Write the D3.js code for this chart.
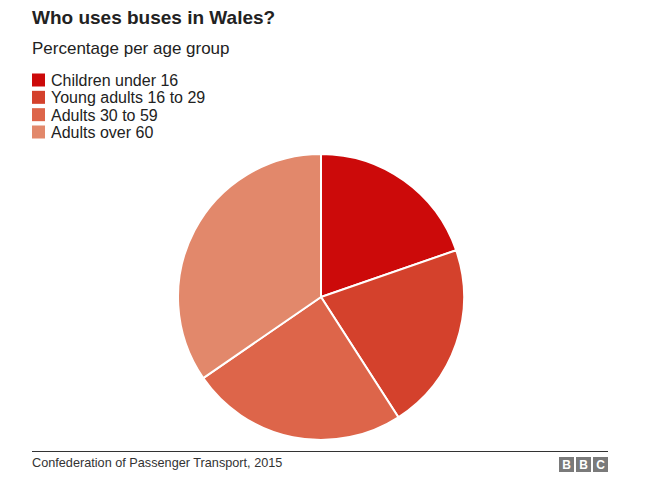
<!DOCTYPE html>
<html>
<head>
<meta charset="utf-8">
<script src="https://cdn.jsdelivr.net/npm/d3@7"></script>
<style>
  body { margin: 0; background: #fff; }
  text { font-family: "Liberation Sans", Arial, sans-serif; }
</style>
</head>
<body>
<div class="wrapper"></div>
<script>
const WIDTH = 660
const HEIGHT = 486

var groups = ['Children under 16', 'Young adults 16 to 29', 'Adults 30 to 59', 'Adults over 60']
var shares = [19.7, 21.2, 24.5, 34.6]
var colors = ['#cc0a0a', '#d4412c', '#dd654a', '#e2886b']

var title = 'Who uses buses in Wales?'
var subtitle = 'Percentage per age group'
var source = 'Confederation of Passenger Transport, 2015'

var svg = d3.select(".wrapper")
    .append("svg")
    .attr("width", WIDTH)
    .attr("height", HEIGHT)

svg.append("text")
    .attr("x", 32).attr("y", 24)
    .style("font-size", "19px")
    .style("font-weight", "bold")
    .attr("fill", "#222")
    .text(title)

svg.append("text")
    .attr("x", 32).attr("y", 54)
    .style("font-size", "17px")
    .attr("fill", "#222")
    .text(subtitle)

var color = d3.scaleOrdinal(groups, colors)
var legendY = d3.scalePoint(groups, [80, 132])

var legend = svg.append("g")
    .selectAll("g")
    .data(groups)
    .join("g")
    .attr("transform", d => `translate(32,${legendY(d)})`)

legend.append("rect")
    .attr("x", 0).attr("y", -6.5)
    .attr("width", 13).attr("height", 13)
    .attr("fill", d => color(d))

legend.append("text")
    .attr("x", 19).attr("y", 6)
    .style("font-size", "16px")
    .attr("fill", "#222")
    .text(d => d)

var data = groups.map((g, i) => ({name: g, value: shares[i]}))
var pie = d3.pie().sort(null).value(d => d.value)
var arc = d3.arc().innerRadius(0).outerRadius(143)

svg.append("g")
    .attr("transform", "translate(321,297)")
    .selectAll("path")
    .data(pie(data))
    .join("path")
    .attr("d", arc)
    .attr("fill", d => color(d.data.name))
    .attr("stroke", "#fff")
    .attr("stroke-width", 2)

svg.append("line")
    .attr("x1", 32).attr("x2", 608)
    .attr("y1", 451.5).attr("y2", 451.5)
    .attr("stroke", "#333")
    .attr("stroke-width", 1)

svg.append("text")
    .attr("x", 32).attr("y", 467)
    .style("font-size", "12.7px")
    .attr("fill", "#333")
    .text(source)

var bbc = svg.append("g")
    .attr("transform", "translate(559,457)")
    .selectAll("g")
    .data(['B', 'B', 'C'])
    .join("g")
    .attr("transform", (d, i) => `translate(${i * 17},0)`)

bbc.append("rect")
    .attr("width", 15).attr("height", 15)
    .attr("fill", "#7a7a7a")

bbc.append("text")
    .attr("x", 7.5).attr("y", 12)
    .attr("text-anchor", "middle")
    .style("font-size", "12px")
    .style("font-weight", "bold")
    .attr("fill", "#fff")
    .text(d => d)
</script>
</body>
</html>
